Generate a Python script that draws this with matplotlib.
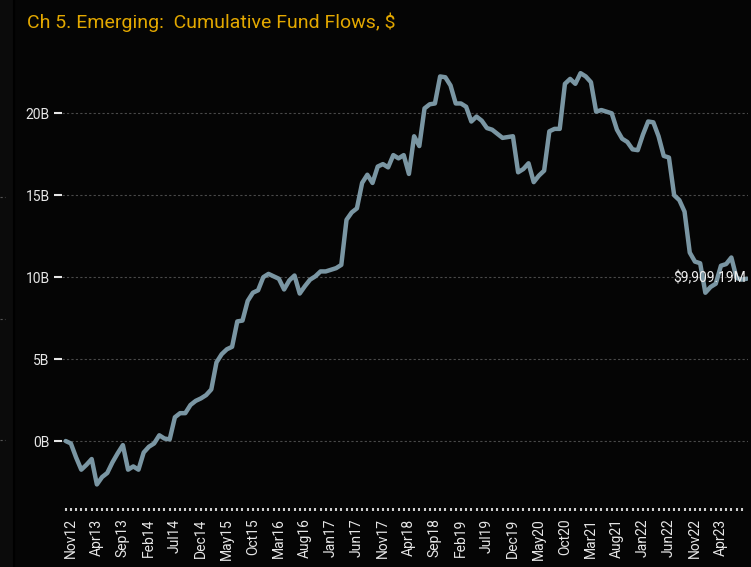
import matplotlib
matplotlib.use("Agg")
import matplotlib.pyplot as plt
import matplotlib.transforms as mtransforms
from matplotlib.lines import Line2D

# monthly cumulative flows, $bn, Oct12 .. Sep23
flows = [
    0.0, -0.15, -1.0, -1.75, -1.45, -1.1, -2.65, -2.2, -1.95, -1.3,
    -0.75, -0.25, -1.75, -1.55, -1.75, -0.7, -0.35, -0.15, 0.35, 0.15,
    0.1, 1.45, 1.7, 1.7, 2.2, 2.45, 2.6, 2.8, 3.15, 4.8,
    5.3, 5.6, 5.75, 7.3, 7.35, 8.55, 9.05, 9.2, 10.0, 10.2,
    10.05, 9.9, 9.25, 9.8, 10.1, 9.0, 9.45, 9.85, 10.05, 10.35,
    10.35, 10.45, 10.55, 10.75, 13.5, 13.95, 14.2, 15.75, 16.25, 15.75,
    16.75, 16.9, 16.7, 17.45, 17.25, 17.45, 16.3, 18.6, 18.0, 20.3,
    20.55, 20.6, 22.25, 22.2, 21.7, 20.6, 20.6, 20.4, 19.5, 19.8,
    19.55, 19.1, 19.0, 18.75, 18.5, 18.55, 18.6, 16.4, 16.6, 16.95,
    15.8, 16.2, 16.5, 18.9, 19.05, 19.05, 21.8, 22.1, 21.8, 22.45,
    22.25, 21.9, 20.1, 20.2, 20.1, 20.0, 19.0, 18.45, 18.25, 17.8,
    17.75, 18.7, 19.5, 19.45, 18.6, 17.4, 17.3, 15.0, 14.7, 14.0,
    11.5, 10.95, 10.85, 9.05, 9.4, 9.6, 10.7, 10.8, 11.2, 9.95,
    9.85, 9.909,
]
tick_labels = ["Nov12", "Apr13", "Sep13", "Feb14", "Jul14", "Dec14", "May15",
               "Oct15", "Mar16", "Aug16", "Jan17", "Jun17", "Nov17", "Apr18",
               "Sep18", "Feb19", "Jul19", "Dec19", "May20", "Oct20", "Mar21",
               "Aug21", "Jan22", "Jun22", "Nov22", "Apr23"]
y_ticks = [0, 5, 10, 15, 20]
last_label = "$9,909.19M"

bg = "#050505"
plt.rcParams["font.family"] = ["Roboto", "DejaVu Sans"]

fig = plt.figure(figsize=(7.51, 5.67), dpi=100, facecolor=bg)
ax = fig.add_axes([0.0826, 0.104, 0.9134, 0.808], facecolor=bg)

x = list(range(len(flows)))
ax.plot(x, flows, color="#7A96A3", lw=3.2, solid_joinstyle="round",
        solid_capstyle="round", zorder=3)

ax.set_xlim(-0.7, 131.2)
ax.set_ylim(-4.09, 23.87)

ax.set_yticks(y_ticks)
ax.set_yticklabels([f"{v}B" for v in y_ticks])
ax.grid(axis="y", color="#4a4a4a", lw=0.8, linestyle=(0, (2, 2)))

major = list(range(1, len(flows), 5))[:len(tick_labels)]
ax.set_xticks(major)
ax.set_xticklabels(tick_labels, rotation=90, ha="center")
ax.set_xticks(x[:-1], minor=True)
off = mtransforms.ScaledTranslation(4 / 100, 0, fig.dpi_scale_trans)
for lab in ax.get_xticklabels():
    lab.set_transform(lab.get_transform() + off)

ax.tick_params(axis="x", which="both", length=2.5, width=1.5, color="#cfcfcf",
               labelcolor="#e6e6e6", labelsize=10, pad=5)
ax.tick_params(axis="y", length=6, width=1.5, color="#e6e6e6",
               labelcolor="#e6e6e6", labelsize=10, pad=3)
for s in ax.spines.values():
    s.set_visible(False)

ax.annotate(last_label, (x[-1], flows[-1]), xytext=(-1, 0),
            textcoords="offset points", ha="right", va="center",
            color="#eeeeee", fontsize=10, zorder=4)

fig.text(27 / 751, 1 - 22 / 567, "Ch 5. Emerging:  Cumulative Fund Flows, $",
         color="#E3A800", fontsize=14, ha="left", va="center")

# left panel strip and leftovers of the neighbouring chart
fig.patches.append(plt.Rectangle((0, 0), 13 / 751, 1, transform=fig.transFigure,
                                 facecolor="#0b0b0b", edgecolor="none", zorder=0))
fig.lines.append(Line2D([13.5 / 751] * 2, [0, 1], transform=fig.transFigure,
                        color="#000000", lw=1.5))
for yy in [197, 319, 440]:
    fig.lines.append(Line2D([0, 5 / 751], [1 - yy / 567] * 2, transform=fig.transFigure,
                            color="#555555", lw=0.8, linestyle=(0, (2, 2))))

fig.savefig("out.png", dpi=100, facecolor=bg)
